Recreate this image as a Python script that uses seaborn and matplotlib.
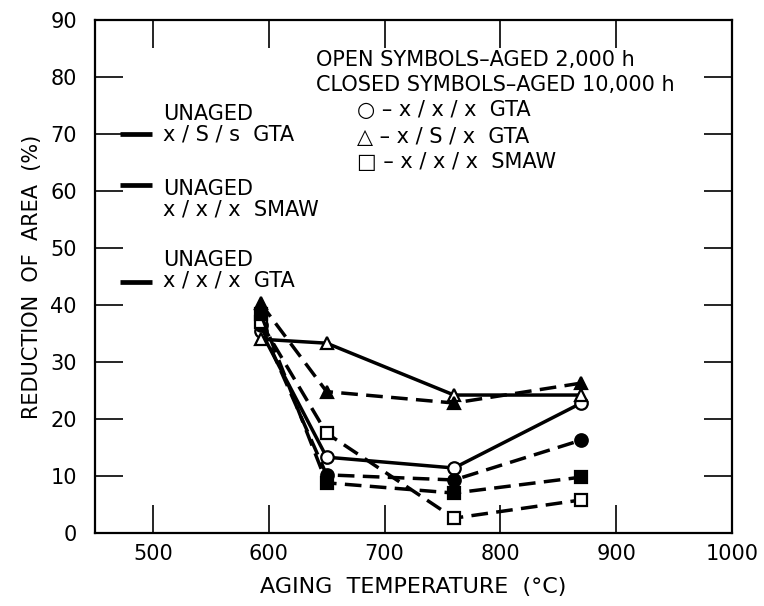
import matplotlib
matplotlib.use("Agg")
import matplotlib.pyplot as plt
import seaborn as sns
import pandas as pd

# ---- data ----
temps = [593, 650, 760, 870]
gta_open = [35.5, 13.3, 11.4, 22.8]        # open circle, x/x/x GTA, 2000 h
gta_closed = [36.5, 10.2, 9.3, 16.3]       # filled circle, x/x/x GTA, 10000 h
sgta_open = [34.0, 33.3, 24.2, 24.2]       # open triangle, x/S/x GTA, 2000 h
sgta_closed = [40.3, 24.8, 22.8, 26.3]     # filled triangle, x/S/x GTA, 10000 h
smaw_open = [37.0, 17.5, 2.6, 5.8]         # open square, SMAW, 2000 h
smaw_closed = [38.5, 8.8, 7.0, 9.8]        # filled square, SMAW, 10000 h

unaged_labels = ["UNAGED\nx / S / s  GTA", "UNAGED\nx / x / x  SMAW", "UNAGED\nx / x / x  GTA"]
unaged_values = [70.0, 61.0, 44.0]

xticks = [500, 600, 700, 800, 900, 1000]
yticks = [0, 10, 20, 30, 40, 50, 60, 70, 80, 90]

DASH = (0, (4.8, 2.4))
series = [
    ("gta_open", gta_open, "o", "white", "-"),
    ("gta_closed", gta_closed, "o", "black", DASH),
    ("sgta_open", sgta_open, "^", "white", "-"),
    ("sgta_closed", sgta_closed, "^", "black", DASH),
    ("smaw_open", smaw_open, "s", "white", DASH),
    ("smaw_closed", smaw_closed, "s", "black", DASH),
]

rows = []
for name, vals, *_ in series:
    for t, v in zip(temps, vals):
        rows.append({"series": name, "temp": t, "ra": v})
df = pd.DataFrame(rows)

sns.set_theme(style="white")
plt.rcParams["font.family"] = ["DejaVu Sans"]
plt.rcParams["text.color"] = "black"
plt.rcParams["axes.labelcolor"] = "black"
plt.rcParams["xtick.color"] = "black"
plt.rcParams["ytick.color"] = "black"

fig = plt.figure(figsize=(7.64, 6.06), dpi=100)
ax = fig.add_axes([0.1243, 0.1205, 0.8338, 0.8465])

for name, vals, mk, fc, ls in series:
    sub = df[df["series"] == name]
    sns.lineplot(data=sub, x="temp", y="ra", ax=ax, color="black",
                 linewidth=2.5, linestyle=ls, marker=mk, markersize=9,
                 markerfacecolor=fc, markeredgecolor="black",
                 markeredgewidth=1.6, errorbar=None, zorder=3)

# unaged reference marks
for val in unaged_values:
    ax.plot([472, 499], [val, val], color="black", linewidth=3.4,
            solid_capstyle="butt")

FS = 15
ax.text(509, 71.7, unaged_labels[0], fontsize=FS, va="center", ha="left",
        linespacing=1.05)
ax.text(509, 58.5, unaged_labels[1], fontsize=FS, va="center", ha="left",
        linespacing=1.05)
ax.text(509, 46.1, unaged_labels[2], fontsize=FS, va="center", ha="left",
        linespacing=1.05)

ax.text(641, 83, "OPEN SYMBOLS\u2013AGED 2,000 h", fontsize=FS, va="center", ha="left")
ax.text(641, 78.6, "CLOSED SYMBOLS\u2013AGED 10,000 h", fontsize=FS, va="center", ha="left")
ax.text(676, 74.2, "\u25CB \u2013 x / x / x  GTA", fontsize=FS, va="center", ha="left")
ax.text(676, 69.5, "\u25B3 \u2013 x / S / x  GTA", fontsize=FS, va="center", ha="left")
ax.text(676, 65.0, "\u25A1 \u2013 x / x / x  SMAW", fontsize=FS, va="center", ha="left")

ax.set_xlim(450, 1000)
ax.set_ylim(0, 90)
ax.set_xticks(xticks)
ax.set_yticks(yticks)
ax.tick_params(axis="both", direction="in", length=20, width=1.2,
               top=True, right=True, bottom=True, left=True,
               labelsize=15, colors="black")
ax.tick_params(axis="y", pad=13)
ax.tick_params(axis="x", pad=8)
for s in ax.spines.values():
    s.set_visible(True)
    s.set_color("black")
    s.set_linewidth(1.6)

ax.set_xlabel("AGING  TEMPERATURE  (\u00b0C)", fontsize=16, labelpad=9, color="black")
ax.set_ylabel("REDUCTION  OF  AREA  (%)", fontsize=15, labelpad=6, color="black")
ax.grid(False)

fig.savefig("out.png", dpi=100, facecolor="white")
